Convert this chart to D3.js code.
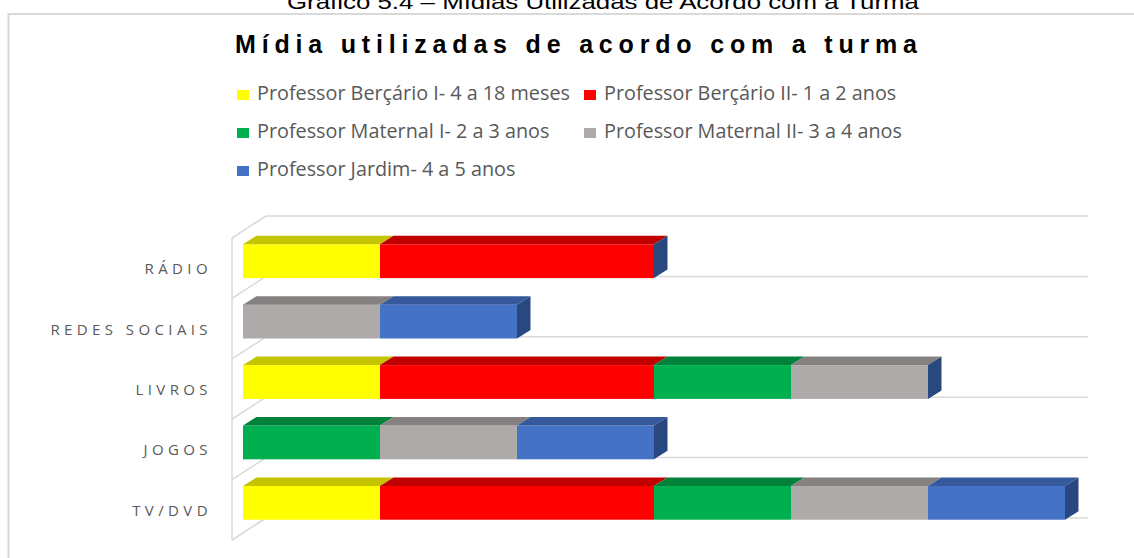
<!DOCTYPE html>
<html>
<head>
<meta charset="utf-8">
<script src="https://cdn.jsdelivr.net/npm/d3@7"></script>
<style>
  body { margin: 0; background: #fff; }
  svg { display: block; }
</style>
</head>
<body>
<div id="chart"></div>
<script>
// categories and series
const categories = ["RÁDIO", "REDES SOCIAIS", "LIVROS", "JOGOS", "TV/DVD"];
const seriesNames = [
    "Professor Berçário I- 4 a 18 meses",
    "Professor Berçário II- 1 a 2 anos",
    "Professor Maternal I- 2 a 3 anos",
    "Professor Maternal II- 3 a 4 anos",
    "Professor Jardim- 4 a 5 anos"
];
const bercarioI  = [1, 0, 1, 0, 1];
const bercarioII = [2, 0, 2, 0, 2];
const maternalI  = [0, 0, 1, 1, 1];
const maternalII = [0, 1, 1, 1, 1];
const jardim     = [0, 1, 0, 1, 1];
const xMax = 6;

const frontColors = ["#FFFF00", "#FF0000", "#00B050", "#AEAAAA", "#4472C4"];
const topColors   = ["#C4C400", "#C00000", "#00823B", "#858181", "#35599A"];
const sideColor = "#2A4880";

const width = 1134, height = 558;

const svg = d3.select("#chart")
    .append("svg")
    .attr("width", width)
    .attr("height", height);

// outer frame + caption that sits above it (cut by the page top, as in the source)
svg.append("rect")
    .attr("x", 8.5).attr("y", 14)
    .attr("width", 1200).attr("height", 600)
    .attr("fill", "none")
    .attr("stroke", "#d9d9d9")
    .attr("stroke-width", 2);

svg.append("text")
    .attr("x", 603).attr("y", 9)
    .attr("text-anchor", "middle")
    .attr("textLength", 632)
    .attr("lengthAdjust", "spacingAndGlyphs")
    .style("font-family", "'Liberation Sans', Arial, sans-serif")
    .style("font-size", "21px")
    .attr("fill", "#000")
    .text("Gráfico 5.4 – Mídias Utilizadas de Acordo com a Turma");

svg.append("text")
    .attr("x", 235).attr("y", 53)
    .attr("textLength", 682)
    .attr("lengthAdjust", "spacing")
    .style("font-family", "'Liberation Sans', Arial, sans-serif")
    .style("font-size", "25px")
    .style("font-weight", "bold")
    .attr("fill", "#000")
    .text("Mídia utilizadas  de acordo com a turma");

// legend
const legendPos = [[237, 100], [584, 100], [237, 138], [584, 138], [237, 176]];
const legend = svg.append("g");
seriesNames.forEach((name, i) => {
    const [lx, ly] = legendPos[i];
    legend.append("rect")
        .attr("x", lx).attr("y", ly - 10)
        .attr("width", 12).attr("height", 10)
        .attr("fill", frontColors[i]);
    legend.append("text")
        .attr("x", lx + 20).attr("y", ly)
        .style("font-family", "'Open Sans', sans-serif")
        .style("font-size", "19.8px")
        .attr("fill", "#595959")
        .text(name);
});

// 3D geometry: front plane of the plot, and depth offsets
const depth = {dx: 34, dy: -22};
const barFront = {dx: 11, dy: -7};
const barDepth = {dx: 13.5, dy: -8.5};

const x = d3.scaleLinear().domain([0, xMax]).range([232, 232 + xMax * 137]);
const yOuter = d3.scaleBand().domain(categories).range([238, 540]);
const y = d3.scaleBand().domain(categories).range([238, 540])
    .paddingInner(0.44).paddingOuter(0.22);

const gridColor = "#d9d9d9";
const bounds = categories.map(c => yOuter(c)).concat([yOuter.range()[1]]);

// back wall gridlines
svg.append("g").selectAll("line")
    .data(bounds)
    .enter()
    .append("line")
    .attr("x1", x(0) + depth.dx)
    .attr("x2", x(xMax) + depth.dx)
    .attr("y1", d => d + depth.dy)
    .attr("y2", d => d + depth.dy)
    .attr("stroke", gridColor)
    .attr("stroke-width", 1.5);

// side wall
const wall = svg.append("g");
wall.append("line")
    .attr("x1", x(0)).attr("x2", x(0))
    .attr("y1", bounds[0]).attr("y2", bounds[bounds.length - 1])
    .attr("stroke", gridColor).attr("stroke-width", 1.5);
wall.selectAll(".diag")
    .data(bounds)
    .enter()
    .append("line")
    .attr("x1", x(0)).attr("y1", d => d)
    .attr("x2", x(0) + depth.dx).attr("y2", d => d + depth.dy)
    .attr("stroke", gridColor).attr("stroke-width", 1.5);

// stacked data
const table = categories.map((c, i) => ({
    cat: c, s0: bercarioI[i], s1: bercarioII[i], s2: maternalI[i], s3: maternalII[i], s4: jardim[i]
}));
const stacked = d3.stack().keys(["s0", "s1", "s2", "s3", "s4"])(table);

const bars = svg.append("g");
stacked.forEach((layer, si) => {
    layer.forEach(seg => {
        const v = seg[1] - seg[0];
        if (v <= 0) return;
        const x0 = x(seg[0]) + barFront.dx;
        const x1 = x(seg[1]) + barFront.dx;
        const yt = y(seg.data.cat) + barFront.dy;
        const yb = yt + y.bandwidth();
        bars.append("rect")
            .attr("x", x0).attr("y", yt)
            .attr("width", x1 - x0).attr("height", yb - yt)
            .attr("fill", frontColors[si]);
        bars.append("polygon")
            .attr("points", [
                [x0, yt], [x1, yt],
                [x1 + barDepth.dx, yt + barDepth.dy],
                [x0 + barDepth.dx, yt + barDepth.dy]
            ].map(p => p.join(",")).join(" "))
            .attr("fill", topColors[si]);
    });
});

// right end face of each bar
table.forEach(d => {
    const total = d.s0 + d.s1 + d.s2 + d.s3 + d.s4;
    const xe = x(total) + barFront.dx;
    const yt = y(d.cat) + barFront.dy;
    const yb = yt + y.bandwidth();
    bars.append("polygon")
        .attr("points", [
            [xe, yt], [xe + barDepth.dx, yt + barDepth.dy],
            [xe + barDepth.dx, yb + barDepth.dy], [xe, yb]
        ].map(p => p.join(",")).join(" "))
        .attr("fill", sideColor);
});

// category labels
svg.append("g").selectAll("text")
    .data(categories)
    .enter()
    .append("text")
    .attr("x", 212)
    .attr("y", d => yOuter(d) + yOuter.bandwidth() / 2)
    .attr("dy", "0.4em")
    .attr("text-anchor", "end")
    .style("font-family", "'Open Sans', sans-serif")
    .style("font-size", "15px")
    .style("letter-spacing", "4.4px")
    .attr("fill", "#595959")
    .text(d => d);
</script>
</body>
</html>
